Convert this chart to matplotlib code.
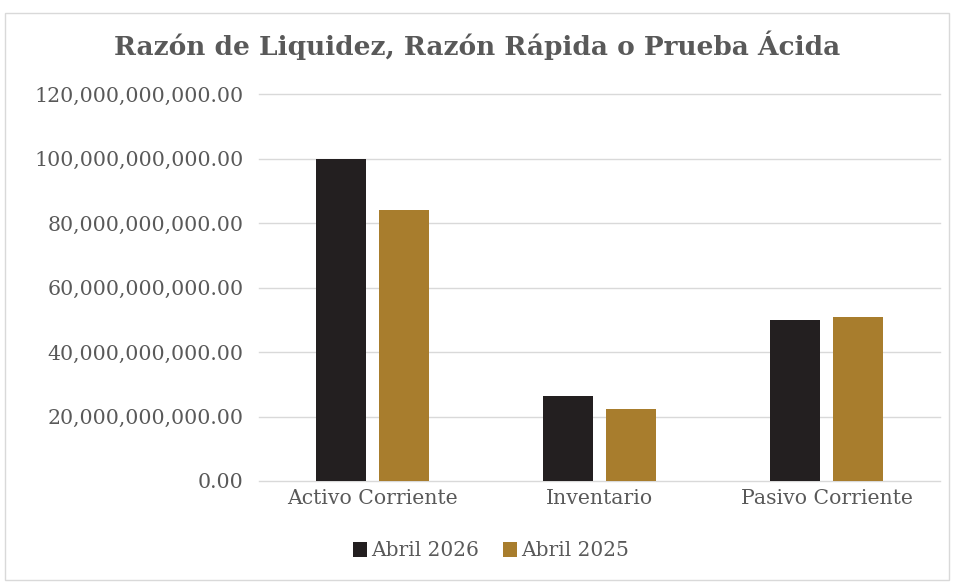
import numpy as np
import matplotlib.pyplot as plt
from matplotlib.patches import Rectangle
from matplotlib.ticker import FuncFormatter

categories = ['Activo Corriente', 'Inventario', 'Pasivo Corriente']
abril_2026 = [100.0e9, 26.4e9, 49.8e9]
abril_2025 = [84.0e9, 22.3e9, 50.9e9]

plt.rcParams['font.family'] = ['DejaVu Serif']
gray = '#595959'

fig = plt.figure(figsize=(9.54, 5.83), dpi=100)
fig.patches.append(Rectangle((5/954, 0.005), 944/954, 1 - 13/583 - 0.005, transform=fig.transFigure,
                             fill=False, edgecolor='#d9d9d9', linewidth=1))
ax = fig.add_axes([259/954, 1 - 481/583, (940 - 259)/954, (481 - 94)/583])

x = np.arange(len(categories))
w = 0.22
ax.bar(x - 0.14, abril_2026, w, color='#231f20', label='Abril 2026', zorder=3)
ax.bar(x + 0.14, abril_2025, w, color='#a87d2d', label='Abril 2025', zorder=3)

ax.set_ylim(0, 120e9)
ax.set_xlim(-0.5, 2.5)
ax.set_yticks(np.arange(0, 120e9 + 1, 20e9))
ax.yaxis.set_major_formatter(FuncFormatter(lambda v, p: f'{v:,.2f}'))
ax.set_xticks(x)
ax.set_xticklabels(categories)
ax.grid(axis='y', color='#d9d9d9', linewidth=1, zorder=0)
for gl in ax.get_ygridlines():
    gl.set_clip_on(False)
for s in ax.spines.values():
    s.set_visible(False)
ax.tick_params(length=0, labelsize=14.8, colors=gray, pad=11)
ax.tick_params(axis='x', labelsize=14.7, pad=6)

fig.text(0.5, 1 - 45/583, 'Razón de Liquidez, Razón Rápida o Prueba Ácida', ha='center', va='center',
         fontsize=19, fontweight='bold', color=gray)

leg = fig.legend(loc='center', bbox_to_anchor=(0.515, 1 - 551/583), ncol=2, frameon=False,
                 fontsize=14.5, handlelength=0.7, handleheight=0.7, handletextpad=0.2, columnspacing=1.2)
for t in leg.get_texts():
    t.set_color(gray)

fig.savefig('out.png', dpi=100)
